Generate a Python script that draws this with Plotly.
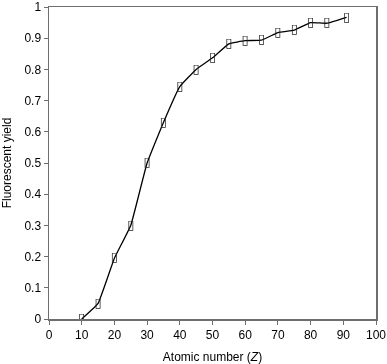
import plotly.graph_objects as go

atomic_number = [10, 15, 20, 25, 30, 35, 40, 45, 50, 55, 60, 65, 70, 75, 80, 85, 91]
fluorescent_yield = [0.0, 0.05, 0.195, 0.30, 0.50, 0.63, 0.745, 0.80, 0.837, 0.882, 0.892, 0.894,
                     0.918, 0.926, 0.95, 0.948, 0.967]
x_ticks = list(range(0, 101, 10))
y_ticks = [round(i * 0.1, 1) for i in range(11)]
y_tick_text = ["0" if v == 0 else ("1" if v == 1 else f"{v:.1f}") for v in y_ticks]

fig = go.Figure()
fig.add_trace(go.Scatter(x=atomic_number, y=fluorescent_yield, mode="lines",
                         line=dict(color="black", width=1.3, shape="spline", smoothing=0.3),
                         hoverinfo="skip", showlegend=False))
fig.add_trace(go.Scatter(x=atomic_number, y=fluorescent_yield, mode="text", text=["▯"] * len(atomic_number),
                         textposition="middle center",
                         textfont=dict(family="DejaVu Sans", size=13, color="#222"),
                         showlegend=False))

axis_common = dict(showline=True, linecolor="#6e6e6e", linewidth=1.5, mirror=True,
                   ticks="outside", ticklen=4, tickcolor="#6e6e6e", tickwidth=1,
                   showgrid=False, zeroline=False, automargin=False,
                   tickfont=dict(family="Liberation Sans, Arial", size=12, color="black"))

fig.update_xaxes(range=[0, 100], tickvals=x_ticks,
                 title=dict(text="Atomic number (<i>Z</i>)",
                            font=dict(family="Liberation Sans, Arial", size=12, color="black")),
                 **axis_common)
fig.update_yaxes(range=[0, 1], tickvals=y_ticks, ticktext=y_tick_text,
                 title=dict(text="Fluorescent yield",
                            font=dict(family="Liberation Sans, Arial", size=12, color="black")),
                 **axis_common)

fig.update_layout(width=387, height=364, margin=dict(l=49, r=11, t=7, b=45),
                  plot_bgcolor="white", paper_bgcolor="white", hovermode=False)
fig.write_html("out.html", config={"displayModeBar": False, "staticPlot": True},
               post_script="document.body.style.margin='0';document.body.style.overflow='hidden';"
                           "var g=document.getElementById('{plot_id}');g.style.willChange='transform';"
                           "g.style.opacity='0.999';")
